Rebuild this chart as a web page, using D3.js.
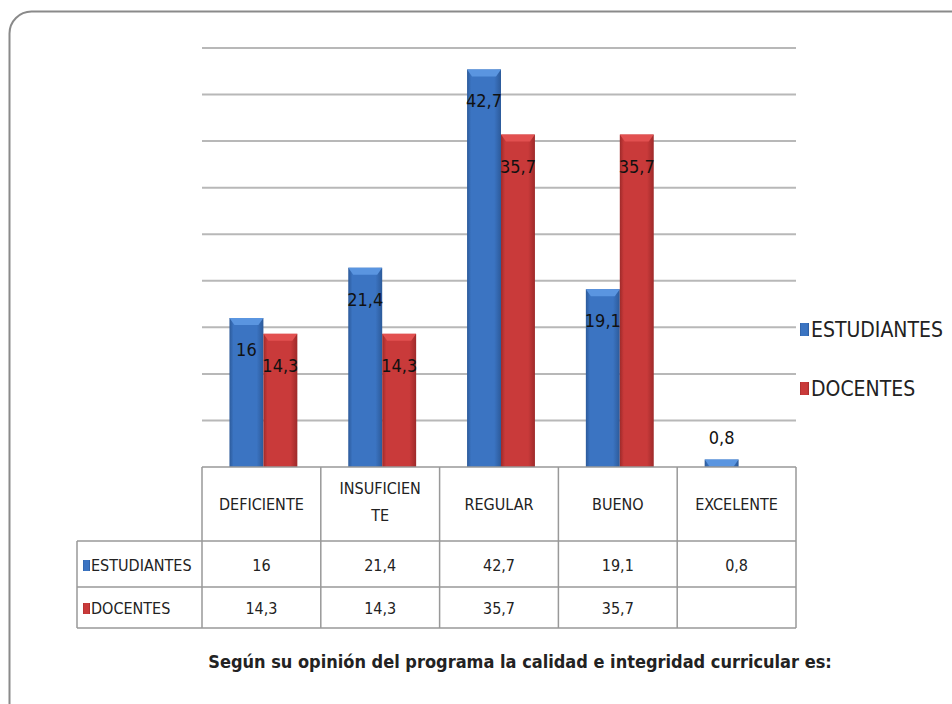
<!DOCTYPE html>
<html>
<head>
<meta charset="utf-8">
<script src="https://cdn.jsdelivr.net/npm/d3@7"></script>
<style>
  body { margin: 0; background: #fff; }
  text { font-family: "Liberation Sans Narrow", "Arial Narrow", "DejaVu Sans Condensed", sans-serif; fill: #222; }
</style>
</head>
<body>
<svg class="chart"></svg>
<script>
var width = 952, height = 704;

// data
var categories = ["DEFICIENTE", "INSUFICIENTE", "REGULAR", "BUENO", "EXCELENTE"];
var catLines = [["DEFICIENTE"], ["INSUFICIEN", "TE"], ["REGULAR"], ["BUENO"], ["EXCELENTE"]];
var seriesNames = ["ESTUDIANTES", "DOCENTES"];
var estudiantes = [16, 21.4, 42.7, 19.1, 0.8];
var docentes = [14.3, 14.3, 35.7, 35.7, null];
var yTicks = [0, 5, 10, 15, 20, 25, 30, 35, 40, 45];
var title = "Según su opinión del programa la calidad e integridad curricular es:";

var seriesValues = [estudiantes, docentes];
var colors = { ESTUDIANTES: ["#5a95e0", "#3b74c2", "#2c5a9a"], DOCENTES: ["#e25050", "#c93a3a", "#9e2a2a"] };

var chart = d3.select(".chart")
    .attr("width", width)
    .attr("height", height);

// gradients for the bars
var defs = chart.append("defs");
seriesNames.forEach(function(s) {
    var g = defs.append("linearGradient").attr("id", "grad_" + s)
        .attr("x1", "0").attr("x2", "1").attr("y1", "0").attr("y2", "0");
    g.append("stop").attr("offset", "0%").attr("stop-color", colors[s][2]);
    g.append("stop").attr("offset", "12%").attr("stop-color", colors[s][1]);
    g.append("stop").attr("offset", "80%").attr("stop-color", colors[s][1]);
    g.append("stop").attr("offset", "100%").attr("stop-color", colors[s][2]);
});

// outer rounded frame (right/bottom run off the picture)
chart.append("rect")
    .attr("x", 9.5).attr("y", 11.5)
    .attr("width", 1000).attr("height", 760)
    .attr("rx", 22)
    .attr("fill", "none")
    .attr("stroke", "#8a8a8a")
    .attr("stroke-width", 2);

var plotLeft = 202, plotRight = 796, plotTop = 48, base = 467;

var x_scale = d3.scaleBand()
    .domain(categories)
    .range([plotLeft, plotRight])
    .paddingInner(0).paddingOuter(0);

var groupW = x_scale.bandwidth() * 2 / 3.5;
var x_inner = d3.scaleBand()
    .domain(seriesNames)
    .range([0, groupW]);

var y_scale = d3.scaleLinear()
    .domain([0, 45])
    .range([base, plotTop]);

// gridlines
chart.append("g").selectAll("line")
    .data(yTicks.slice(1))
    .enter().append("line")
    .attr("x1", plotLeft).attr("x2", plotRight)
    .attr("y1", function(d) { return y_scale(d); })
    .attr("y2", function(d) { return y_scale(d); })
    .attr("stroke", "#b8b8b8")
    .attr("stroke-width", 2);

// bars
var rows = [];
categories.forEach(function(c, i) {
    seriesNames.forEach(function(s, j) {
        if (seriesValues[j][i] != null) rows.push({ cat: c, series: s, value: seriesValues[j][i] });
    });
});

var bar = chart.append("g").selectAll("g")
    .data(rows)
    .enter().append("g")
    .attr("transform", function(d) {
        var x0 = x_scale(d.cat) + (x_scale.bandwidth() - groupW) / 2 + 2;
        return "translate(" + (x0 + x_inner(d.series)) + ",0)";
    });

bar.append("rect")
    .attr("y", function(d) { return y_scale(d.value); })
    .attr("width", x_inner.bandwidth())
    .attr("height", function(d) { return base - y_scale(d.value); })
    .attr("fill", function(d) { return "url(#grad_" + d.series + ")"; });

// bevel on top of each bar
bar.append("path")
    .attr("d", function(d) {
        var w = x_inner.bandwidth(), y = y_scale(d.value), h = Math.min(7, base - y);
        return "M0," + y + "H" + w + "L" + (w - 5) + "," + (y + h) + "H5Z";
    })
    .attr("fill", function(d) { return colors[d.series][0]; });

// data labels
bar.append("text")
    .attr("x", x_inner.bandwidth() / 2)
    .attr("y", function(d) {
        return d.value < 3 ? y_scale(d.value) - 16 : y_scale(d.value) + 38;
    })
    .attr("text-anchor", "middle")
    .style("font-size", "18px")
    .style("fill", "#111")
    .text(function(d) { return String(d.value).replace(".", ","); });

// data table under the plot
var tableLeft = 77, headBottom = 541, row1 = 587, row2 = 628;
var grid = chart.append("g").attr("stroke", "#999").attr("stroke-width", 1.5).attr("fill", "none");
grid.append("line").attr("x1", plotLeft).attr("x2", plotRight).attr("y1", base).attr("y2", base);
[headBottom, row1, row2].forEach(function(y) {
    grid.append("line").attr("x1", tableLeft).attr("x2", plotRight).attr("y1", y).attr("y2", y);
});
grid.append("line").attr("x1", tableLeft).attr("x2", tableLeft).attr("y1", headBottom).attr("y2", row2);
categories.concat(["end"]).forEach(function(c, i) {
    var x = i < categories.length ? x_scale(c) : plotRight;
    grid.append("line").attr("x1", x).attr("x2", x).attr("y1", base).attr("y2", row2);
});

var head = chart.append("g").selectAll("text")
    .data(catLines)
    .enter().append("text")
    .attr("text-anchor", "middle")
    .style("font-size", "16px")
    .attr("transform", function(d, i) {
        return "translate(" + (x_scale(categories[i]) + x_scale.bandwidth() / 2) + "," + (d.length > 1 ? 494 : 510) + ")";
    });
head.selectAll("tspan")
    .data(function(d) { return d; })
    .enter().append("tspan")
    .attr("x", 0)
    .attr("dy", function(d, i) { return i ? 27 : 0; })
    .text(function(d) { return d; });

var rowY = [row1 - 16, row2 - 14];
seriesNames.forEach(function(s, j) {
    var g = chart.append("g");
    g.append("rect")
        .attr("x", 83).attr("y", rowY[j] - 11)
        .attr("width", 7).attr("height", 11)
        .attr("fill", "url(#grad_" + s + ")");
    g.append("text")
        .attr("x", 91).attr("y", rowY[j])
        .style("font-size", "16px")
        .text(s);
    g.selectAll(".cell")
        .data(seriesValues[j])
        .enter().append("text")
        .attr("x", function(d, i) { return x_scale(categories[i]) + x_scale.bandwidth() / 2; })
        .attr("y", rowY[j])
        .attr("text-anchor", "middle")
        .style("font-size", "16px")
        .text(function(d) { return d == null ? "" : String(d).replace(".", ","); });
});

// legend
var legend = chart.append("g").selectAll("g")
    .data(seriesNames)
    .enter().append("g")
    .attr("transform", function(d, i) { return "translate(800," + (337 + i * 59) + ")"; });
legend.append("rect")
    .attr("x", 0).attr("y", -14)
    .attr("width", 9).attr("height", 13)
    .attr("fill", function(d) { return "url(#grad_" + d + ")"; });
legend.append("text")
    .attr("x", 11)
    .style("font-size", "21px")
    .text(function(d) { return d; });

// axis title
chart.append("text")
    .attr("x", 520).attr("y", 668)
    .attr("text-anchor", "middle")
    .style("font-size", "18px")
    .style("font-weight", "bold")
    .text(title);
</script>
</body>
</html>
